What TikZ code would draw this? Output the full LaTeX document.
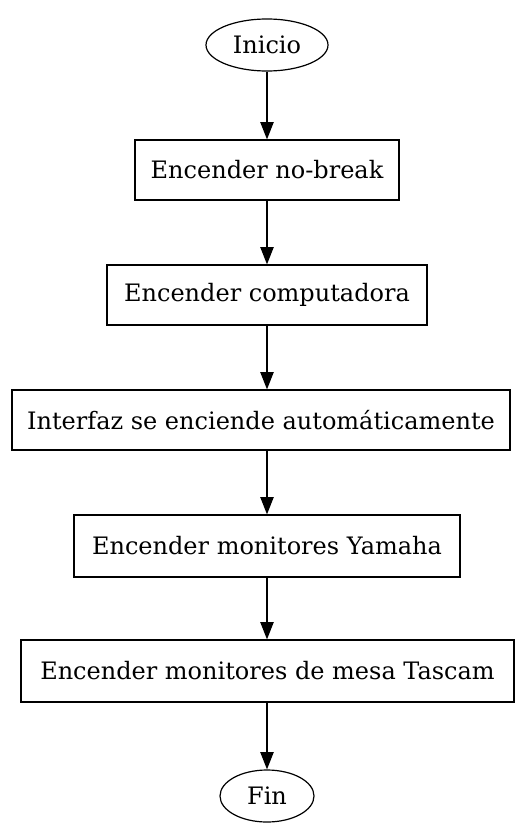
\documentclass[tikz,border=0pt]{standalone}
\usepackage{fontspec}
\setmainfont{DejaVu Serif}
\usetikzlibrary{shapes.geometric,arrows.meta}
\tikzset{
  paso/.style={rectangle,draw,line width=0.9pt,inner sep=0pt,font=\fontsize{18}{21}\selectfont},
  term/.style={ellipse,draw,line width=0.9pt,inner sep=0pt,font=\fontsize{18}{21}\selectfont},
  flecha/.style={-{Triangle[length=13pt,width=10pt]},line width=0.9pt}
}
\begin{document}
\begin{tikzpicture}[x=0.75pt,y=-0.75pt]
    \useasboundingbox (0,0) rectangle (514,824);
    \path (267,45) node [term,minimum width=91.5pt,minimum height=39pt](inicio){Inicio};
    \path (267,170) node [paso,minimum width=198pt,minimum height=45pt](nobreak){Encender no-break};
    \path (267,295) node [paso,minimum width=240pt,minimum height=45pt](compu){Encender computadora};
    \path (261,420) node [paso,minimum width=373.5pt,minimum height=45pt](interfaz){Interfaz se enciende automáticamente};
    \path (267,546) node [paso,minimum width=289.5pt,minimum height=46.5pt](yamaha){Encender monitores Yamaha};
    \path (267.5,671) node [paso,minimum width=369.75pt,minimum height=46.5pt](tascam){Encender monitores de mesa Tascam};
    \path (267,796) node [term,minimum width=70.5pt,minimum height=39pt](fin){Fin};
    \draw[flecha] (inicio) -- (nobreak);
    \draw[flecha] (nobreak) -- (compu);
    \draw[flecha] (compu) -- (interfaz.north -| compu);
    \draw[flecha] (interfaz.south -| compu) -- (yamaha);
    \draw[flecha] (yamaha) -- (tascam.north -| yamaha);
    \draw[flecha] (tascam.south -| yamaha) -- (fin);
  \end{tikzpicture}
\end{document}
